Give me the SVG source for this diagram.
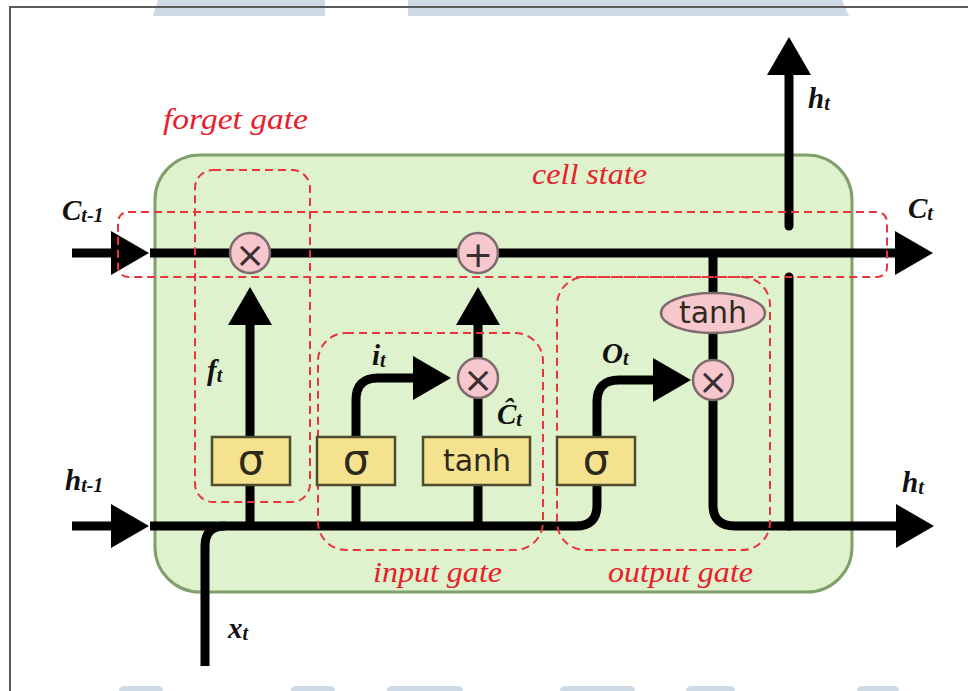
<svg xmlns="http://www.w3.org/2000/svg" width="968" height="691" viewBox="0 0 968 691">
<defs>
<style>
.frame{fill:none;stroke:#5a5a5a;stroke-width:2}
.band{fill:#cdd9e5}
.cell{fill:#ddf2cd;stroke:#7f9f6b;stroke-width:3}
.wire{fill:none;stroke:#000;stroke-width:9}
.rnd{stroke-linecap:round}
.dash{fill:none;stroke:#e8343c;stroke-width:2;stroke-dasharray:8 5}
.op{fill:#f6c7cd;stroke:#7d6a6d;stroke-width:2.5}
.opt{font-family:"DejaVu Sans",sans-serif;fill:#3b2e33;text-anchor:middle;dominant-baseline:central}
.layer{fill:#f5e28f;stroke:#4e4b2e;stroke-width:2.5}
.lt{font-family:"DejaVu Sans",sans-serif;fill:#2d2a1c;text-anchor:middle}
.gl{font-family:"Liberation Serif",serif;font-style:italic;fill:#e8202a;font-size:30px}
.m{font-family:"Liberation Serif",serif;font-style:italic;font-weight:bold;fill:#111;font-size:29px}
.s{font-size:20px}
</style>
<marker id="arr" viewBox="0 0 38 44" markerWidth="38" markerHeight="44" refX="1" refY="22" markerUnits="userSpaceOnUse" orient="auto">
<path d="M0,0 L38,22 L0,44 Z" fill="#000"/>
</marker>
</defs>
<rect x="0" y="0" width="968" height="691" fill="#fff"/>
<g id="frame">
<polygon class="band" points="158,0 325,0 325,16 153,16"/>
<polygon class="band" points="408,0 842,0 849,16 408,16"/>
<rect class="band" x="119" y="686" width="44" height="10" rx="5"/>
<rect class="band" x="291" y="686" width="44" height="10" rx="5"/>
<rect class="band" x="387" y="686" width="76" height="10" rx="5"/>
<rect class="band" x="560" y="686" width="75" height="10" rx="5"/>
<rect class="band" x="686" y="686" width="49" height="10" rx="5"/>
<rect class="band" x="857" y="686" width="42" height="10" rx="5"/>
<path class="frame" d="M10,691 V7 H968"/>
</g>
<g id="lstm-cell">
<rect class="cell" x="155" y="155" width="697" height="437" rx="45"/>
</g>
<g id="connectors">
<path class="wire" d="M72,253 H112" marker-end="url(#arr)"/>
<path class="wire" d="M150,253 H896" marker-end="url(#arr)"/>
<path class="wire" d="M72,526 H112" marker-end="url(#arr)"/>
<path class="wire" d="M150,526 H576 Q597,526 597,505 V485"/>
<path class="wire" d="M205,666 V546 Q205,526 225,526"/>
<path class="wire" d="M250,526 V485"/>
<path class="wire" d="M250,437 V324" marker-end="url(#arr)"/>
<path class="wire" d="M356,526 V485"/>
<path class="wire" d="M356,437 V400 Q356,378 378,378 H414" marker-end="url(#arr)"/>
<path class="wire" d="M478,526 V485"/>
<path class="wire" d="M478,437 V398"/>
<path class="wire" d="M478,358 V324" marker-end="url(#arr)"/>
<path class="wire" d="M597,437 V402 Q597,380 619,380 H654" marker-end="url(#arr)"/>
<path class="wire" d="M713,253 V293"/>
<path class="wire" d="M713,333 V360"/>
<path class="wire" d="M713,400 V505 Q713,526 735,526 H897" marker-end="url(#arr)"/>
<path class="wire rnd" d="M789,526 V277"/>
<path class="wire rnd" d="M789,226 V74" marker-end="url(#arr)"/>
</g>
<g id="regions">
<rect class="dash" x="118" y="212" width="769" height="65" rx="10"/>
<rect class="dash" x="195" y="170" width="115" height="332" rx="18"/>
<rect class="dash" x="318" y="333" width="225" height="217" rx="28"/>
<rect class="dash" x="557" y="277" width="213" height="273" rx="28"/>
</g>
<g id="forget-mul"><circle class="op" cx="250" cy="253" r="20"/><text class="opt" x="250" y="254" font-size="36">×</text></g>
<g id="cell-add"><circle class="op" cx="478" cy="253" r="20"/><text class="opt" x="478" y="254" font-size="36">+</text></g>
<g id="input-mul"><circle class="op" cx="478" cy="378" r="20"/><text class="opt" x="478" y="379" font-size="36">×</text></g>
<g id="output-mul"><circle class="op" cx="713" cy="380" r="20"/><text class="opt" x="713" y="381" font-size="36">×</text></g>
<g id="output-tanh"><ellipse class="op" cx="713" cy="313" rx="52" ry="20"/><text class="lt" x="713" y="323" font-size="30" fill="#3b2e33">tanh</text></g>
<g id="forget-sigma"><rect class="layer" x="212" y="437" width="78" height="48"/><text class="lt" x="251" y="474" font-size="42">σ</text></g>
<g id="input-sigma"><rect class="layer" x="317" y="437" width="78" height="48"/><text class="lt" x="356" y="474" font-size="42">σ</text></g>
<g id="input-tanh"><rect class="layer" x="423" y="437" width="107" height="48"/><text class="lt" x="477" y="471" font-size="30">tanh</text></g>
<g id="output-sigma"><rect class="layer" x="557" y="437" width="78" height="48"/><text class="lt" x="596" y="474" font-size="42">σ</text></g>
<g id="labels">
<text class="gl" x="163" y="129" textLength="145" lengthAdjust="spacingAndGlyphs">forget gate</text>
<text class="gl" x="532" y="184" textLength="115" lengthAdjust="spacingAndGlyphs">cell state</text>
<text class="gl" x="373" y="582" textLength="129" lengthAdjust="spacingAndGlyphs">input gate</text>
<text class="gl" x="608" y="582" textLength="145" lengthAdjust="spacingAndGlyphs">output gate</text>
<text class="m" x="62" y="220">C<tspan class="s" dy="2">t-1</tspan></text>
<text class="m" x="908" y="218">C<tspan class="s" dy="2">t</tspan></text>
<text class="m" x="65" y="490">h<tspan class="s" dy="2">t-1</tspan></text>
<text class="m" x="902" y="492">h<tspan class="s" dy="2">t</tspan></text>
<text class="m" x="808" y="108">h<tspan class="s" dy="2">t</tspan></text>
<text class="m" x="228" y="638">x<tspan class="s" dy="2">t</tspan></text>
<text class="m" x="207" y="380">f<tspan class="s" dy="2">t</tspan></text>
<text class="m" x="372" y="365">i<tspan class="s" dy="2">t</tspan></text>
<text class="m" x="602" y="363">O<tspan class="s" dy="2">t</tspan></text>
<text class="m" x="497" y="424" font-size="26">Ĉ<tspan class="s" dy="2">t</tspan></text>
</g>
</svg>
